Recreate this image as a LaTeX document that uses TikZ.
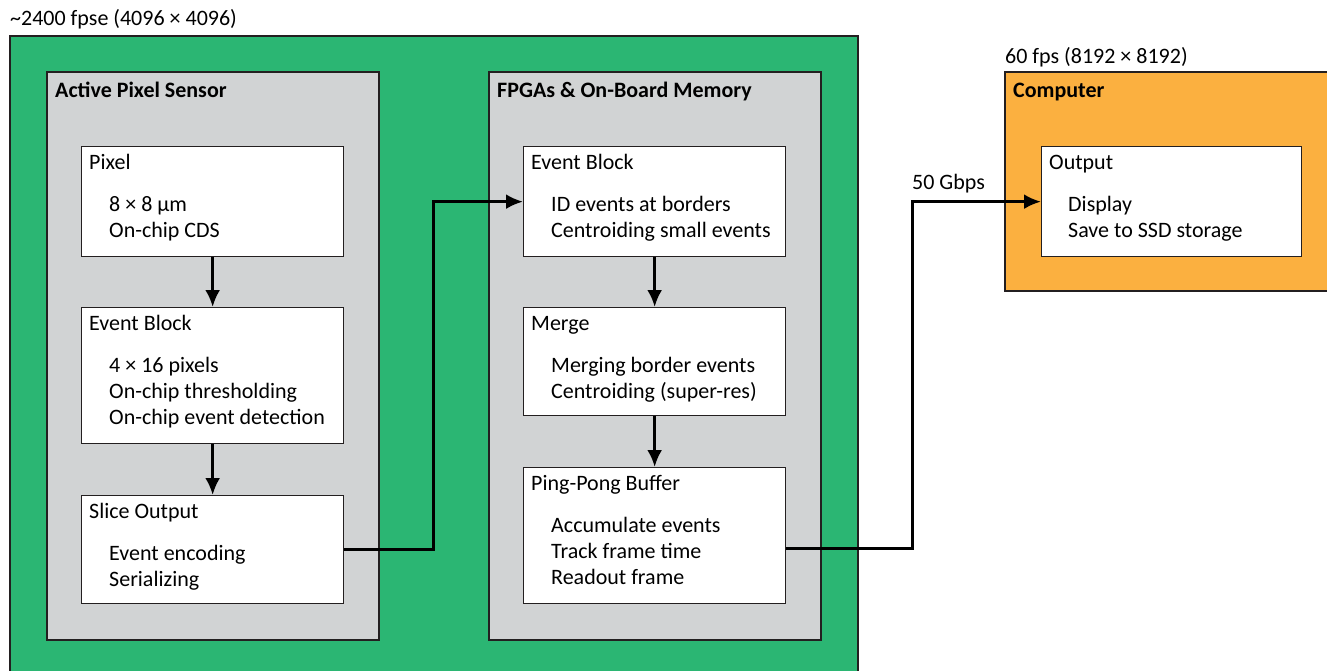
\documentclass[tikz,border=0pt]{standalone}
\usepackage{fontspec}
\setmainfont{Carlito}
\usetikzlibrary{arrows.meta,positioning}
\definecolor{zone}{HTML}{2BB673}
\definecolor{unit}{HTML}{D1D3D4}
\definecolor{host}{HTML}{FBB040}
\definecolor{edge}{HTML}{231F20}

\begin{document}
\begin{tikzpicture}[x=1pt,y=-1pt,font=\fontsize{22}{26}\selectfont,frame/.style={draw=edge,line width=1.3pt},stage/.style={frame,fill=white,anchor=north west,inner sep=0pt,minimum width=262pt},head/.style={anchor=mid west,inner sep=0pt},lines/.style={anchor=north west,align=left,inner sep=0pt},flow/.style={-{Latex[length=17pt,width=15pt]},line width=3pt}]
 \useasboundingbox (0,0) rectangle (1327,671);
 \clip (0,0) rectangle (1327,671);
 % outer blocks
 \draw[frame,fill=zone] (10,36) rectangle (858,700);
 \draw[frame,fill=unit] (47,72) rectangle (379,640);
 \draw[frame,fill=unit] (489,72) rectangle (821,640);
 \draw[frame,fill=host] (1005,72) rectangle (1345,291);
 \node[head] (rateA) at (10,23) {\textasciitilde2400 fpse (4096 × 4096)};
 \node[head] (rateB) at (1005,61) {60 fps (8192 × 8192)};
 \node[head,font=\fontsize{22}{26}\selectfont\bfseries] (aps) at (55,95) {Active Pixel Sensor};
 \node[head,font=\fontsize{22}{26}\selectfont\bfseries] (fpga) at (497,95) {FPGAs \& On-Board Memory};
 \node[head,font=\fontsize{22}{26}\selectfont\bfseries] (pc) at (1013,95) {Computer};
 % sensor side
 \node[stage,minimum height=110pt] (pix) at (81,146) {};
 \node[head] (pixT) at ([xshift=8pt,yshift=-21pt]pix.north west) {Pixel};
 \node[lines] (pixB) at ([xshift=28pt,yshift=-47pt]pix.north west) {\strut 8 × 8 µm\\On-chip CDS};
 \node[stage,minimum height=136pt] (blkA) at (81,307) {};
 \node[head] (blkAT) at ([xshift=8pt,yshift=-21pt]blkA.north west) {Event Block};
 \node[lines] (blkAB) at ([xshift=28pt,yshift=-47pt]blkA.north west) {\strut 4 × 16 pixels\\On-chip thresholding\\On-chip event detection};
 \node[stage,minimum height=108pt] (slice) at (81,495) {};
 \node[head] (sliceT) at ([xshift=8pt,yshift=-21pt]slice.north west) {Slice Output};
 \node[lines] (sliceB) at ([xshift=28pt,yshift=-47pt]slice.north west) {\strut Event encoding\\Serializing};
 % fpga side
 \node[stage,minimum height=110pt] (blkB) at (523,146) {};
 \node[head] (blkBT) at ([xshift=8pt,yshift=-21pt]blkB.north west) {Event Block};
 \node[lines] (blkBB) at ([xshift=28pt,yshift=-47pt]blkB.north west) {\strut ID events at borders\\Centroiding small events};
 \node[stage,minimum height=108pt] (merge) at (523,307) {};
 \node[head] (mergeT) at ([xshift=8pt,yshift=-21pt]merge.north west) {Merge};
 \node[lines] (mergeB) at ([xshift=28pt,yshift=-47pt]merge.north west) {\strut Merging border events\\Centroiding (super-res)};
 \node[stage,minimum height=136pt] (pp) at (523,467) {};
 \node[head] (ppT) at ([xshift=8pt,yshift=-21pt]pp.north west) {Ping-Pong Buffer};
 \node[lines] (ppB) at ([xshift=28pt,yshift=-47pt]pp.north west) {\strut Accumulate events\\Track frame time\\Readout frame};
 % computer
 \node[stage,minimum width=260pt,minimum height=110pt] (out) at (1041,146) {};
 \node[head] (outT) at ([xshift=8pt,yshift=-21pt]out.north west) {Output};
 \node[lines] (outB) at ([xshift=27pt,yshift=-47pt]out.north west) {\strut Display\\Save to SSD storage};
 \node[head] (link) at (912,187) {50 Gbps};
 % arrows
 \coordinate (jA) at (433,0);
 \coordinate (jB) at (912,0);
 \draw[flow] (pix.south) -- (blkA.north);
 \draw[flow] (blkA.south) -- (slice.north);
 \draw[flow] (blkB.south) -- (merge.north);
 \draw[flow] (merge.south) -- (pp.north);
 \draw[flow] (slice.east) -| (jA |- blkB.west) -- (blkB.west);
 \draw[flow] ([yshift=-13pt]pp.east) -| (jB |- out.west) -- (out.west);
\end{tikzpicture}
\end{document}
